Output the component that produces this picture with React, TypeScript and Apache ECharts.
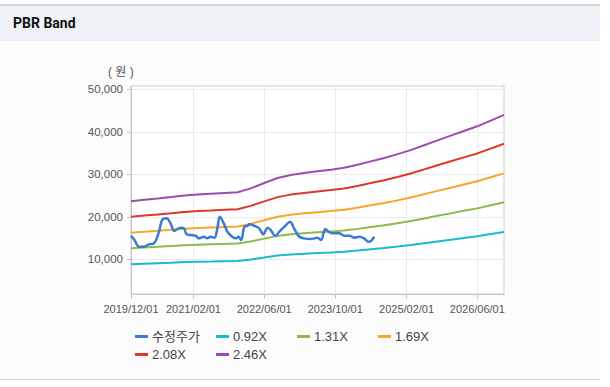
import React, { useEffect, useRef } from 'react';
import * as echarts from 'echarts';

const priceDates = [
  '2019-12-01', '2019-12-25', '2020-01-25', '2020-02-28', '2020-04-01', '2020-05-07', '2020-06-10',
  '2020-07-01', '2020-08-01', '2020-08-28', '2020-09-22', '2020-10-13', '2020-11-07', '2020-11-28',
  '2020-12-16', '2021-01-13', '2021-02-16', '2021-03-10', '2021-04-13', '2021-05-07', '2021-05-28',
  '2021-06-25', '2021-07-13', '2021-08-01', '2021-08-28', '2021-09-22', '2021-10-25', '2021-11-19',
  '2021-12-07', '2021-12-25', '2022-01-16', '2022-02-07', '2022-02-19', '2022-03-25', '2022-04-28',
  '2022-05-25', '2022-06-25', '2022-07-16', '2022-08-16', '2022-09-13', '2022-10-28', '2022-11-25',
  '2022-12-25', '2023-01-28', '2023-03-01', '2023-04-16', '2023-06-01', '2023-06-25', '2023-07-25',
  '2023-08-16', '2023-09-13', '2023-10-28', '2023-12-01', '2024-01-07', '2024-02-10', '2024-03-13',
  '2024-04-16', '2024-05-16', '2024-06-01', '2024-06-25',
];
const priceValues = [
  15550, 14540, 12970, 12970, 13530, 13770, 16500,
  19250, 19650, 18470, 16660, 17130, 17440, 17300,
  15880, 15720, 15550, 14940, 15320, 14940, 15320,
  15080, 16890, 20020, 18470, 16500, 15320, 14940,
  15320, 14540, 17670, 17900, 18230, 17900, 17300,
  15880, 17440, 16890, 15550, 16500, 18070, 18850,
  17130, 15320, 14940, 14780, 15080, 14540, 17130,
  16500, 16120, 16120, 15550, 15550, 15080, 15320,
  14940, 14140, 14300, 15320,
];

const bandDates = [
  '2019-12-01', '2020-03-01', '2020-06-01', '2020-09-01', '2020-12-01', '2021-03-01', '2021-06-01',
  '2021-09-01', '2021-12-01', '2022-03-01', '2022-06-01', '2022-09-01', '2022-12-01', '2023-03-01',
  '2023-06-01', '2023-09-01', '2023-12-01', '2024-03-01', '2024-06-01', '2024-09-01', '2024-12-01',
  '2025-03-01', '2025-06-01', '2025-09-01', '2025-12-01', '2026-03-01', '2026-06-01', '2026-09-01',
  '2026-12-01',
];
const band092 = [8850, 8980, 9100, 9220, 9350, 9450, 9510, 9580, 9640, 9990, 10450, 10900, 11160, 11330, 11480, 11630, 11800, 12060, 12360, 12660, 13000, 13350, 13780, 14210, 14620, 15030, 15450, 15950, 16460];
const band131 = [12590, 12780, 12950, 13130, 13310, 13460, 13550, 13640, 13730, 14220, 14880, 15520, 15890, 16140, 16350, 16560, 16800, 17170, 17600, 18030, 18510, 19010, 19620, 20240, 20820, 21410, 21990, 22710, 23430];
const band169 = [16250, 16490, 16710, 16940, 17180, 17360, 17480, 17600, 17710, 18340, 19200, 20020, 20500, 20820, 21090, 21370, 21670, 22160, 22710, 23250, 23870, 24530, 25320, 26110, 26860, 27620, 28370, 29300, 30230];
const band208 = [20000, 20290, 20560, 20850, 21140, 21370, 21510, 21660, 21800, 22580, 23630, 24640, 25230, 25620, 25960, 26300, 26680, 27270, 27950, 28620, 29380, 30190, 31160, 32130, 33060, 33990, 34920, 36060, 37200];
const band246 = [23650, 24000, 24320, 24660, 25000, 25270, 25440, 25610, 25780, 26700, 27950, 29140, 29840, 30300, 30700, 31100, 31550, 32250, 33050, 33850, 34750, 35700, 36850, 38000, 39100, 40200, 41300, 42650, 44000];

const seriesNames = ['수정주가', '0.92X', '1.31X', '1.69X', '2.08X', '2.46X'];
const seriesColors = ['#3a7bd5', '#1cb9d2', '#8cbb4c', '#f7a62b', '#e0352b', '#9c4dab'];
const xTickDates = ['2019-12-01', '2021-02-01', '2022-06-01', '2023-10-01', '2025-02-01', '2026-06-01'];
const yTickValues = [10000, 20000, 30000, 40000, 50000];
const xMin = '2019-12-01';
const xMax = '2026-12-01';
const yMin = 1850;
const yMax = 50780;
const unitLabel = '( 원 )';
const titleText = 'PBR Band';

const FONT = '"Liberation Sans", Arial, "Noto Sans CJK KR", sans-serif';

const ts = (s: string) => {
  const [y, m, d] = s.split('-').map(Number);
  return Date.UTC(y, m - 1, d);
};

export default function App() {
  const ref = useRef<HTMLDivElement>(null);

  useEffect(() => {
    document.body.style.margin = '0';
    const chart = echarts.init(ref.current as HTMLDivElement, null, { renderer: 'svg' });
    const pair = (dates: string[], vals: number[]) => dates.map((d, i) => [ts(d), vals[i]]);
    const bandValues = [band092, band131, band169, band208, band246];

    const series: any[] = [
      {
        name: seriesNames[0],
        type: 'line',
        data: pair(priceDates, priceValues),
        showSymbol: false,
        smooth: 0.35,
        z: 5,
        lineStyle: { width: 2.5, color: seriesColors[0] },
        itemStyle: { color: seriesColors[0] },
      },
      ...bandValues.map((vals, i) => ({
        name: seriesNames[i + 1],
        type: 'line',
        data: pair(bandDates, vals),
        showSymbol: false,
        z: 3,
        lineStyle: { width: 2, color: seriesColors[i + 1] },
        itemStyle: { color: seriesColors[i + 1] },
      })),
    ];

    // fixed-column legend: 4 columns, 2 rows
    const colLeft = [135, 216, 297, 378];
    const rowTop = [289, 307];
    const legends = seriesNames.map((name, i) => ({
      orient: 'horizontal',
      left: colLeft[i % 4],
      top: rowTop[Math.floor(i / 4)],
      icon: 'rect',
      itemWidth: 13,
      itemHeight: 3,
      itemGap: 0,
      padding: 0,
      data: [name],
      textStyle: { fontSize: 13, color: '#444', fontFamily: FONT, padding: [0, 0, 0, -1] },
    }));

    const xTicks = xTickDates.map(ts);

    chart.setOption({
      animation: false,
      backgroundColor: 'transparent',
      grid: {
        left: 131,
        top: 45,
        width: 373,
        height: 208,
        show: true,
        borderColor: '#cdcdcd',
        borderWidth: 1,
        backgroundColor: '#ffffff',
      },
      xAxis: {
        type: 'value',
        min: ts(xMin),
        max: ts(xMax),
        axisLine: { show: true, lineStyle: { color: '#c4c4c4' } },
        axisTick: { show: true, length: 5, customValues: xTicks, lineStyle: { color: '#c4c4c4' } },
        axisLabel: {
          customValues: xTicks,
          fontSize: 11,
          color: '#555',
          fontFamily: FONT,
          margin: 9,
          hideOverlap: false,
          showMinLabel: true,
          showMaxLabel: true,
          formatter: (v: number) => echarts.time.format(v, '{yyyy}/{MM}/{dd}', true),
        },
        splitLine: { show: true, lineStyle: { color: '#ebebeb', width: 1 } },
      },
      yAxis: {
        type: 'value',
        min: yMin,
        max: yMax,
        axisLine: { show: true, lineStyle: { color: '#c4c4c4' } },
        axisTick: { show: true, length: 4, customValues: yTickValues, lineStyle: { color: '#c4c4c4' } },
        axisLabel: {
          customValues: yTickValues,
          fontSize: 11.5,
          color: '#555',
          fontFamily: FONT,
          margin: 8,
          formatter: (v: number) => v.toLocaleString('en-US'),
        },
        splitLine: { show: true, lineStyle: { color: '#ebebeb', width: 1 } },
      },
      legend: legends,
      graphic: [
        {
          type: 'text',
          left: 108,
          top: 25,
          style: { text: unitLabel, font: `12px ${FONT}`, fill: '#555' },
        },
      ],
      series,
    });
    return () => chart.dispose();
  }, []);

  return (
    <div style={{ position: 'relative', width: 610, height: 387, background: '#ffffff', overflow: 'hidden' }}>
      <div style={{ position: 'absolute', left: 0, top: 4, width: 600, height: 2, background: '#d3d6db' }} />
      <div
        style={{
          position: 'absolute',
          left: 0,
          top: 6,
          width: 600,
          height: 35,
          background: '#eef2f7',
          boxSizing: 'border-box',
          paddingLeft: 13,
          lineHeight: '35px',
          fontFamily: 'Roboto, "Liberation Sans", Arial, sans-serif',
          fontWeight: 'bold',
          fontSize: 14,
          color: '#111',
        }}
      >
        {titleText}
      </div>
      <div style={{ position: 'absolute', left: 0, top: 41, width: 600, height: 338, background: '#fcfcfc' }} />
      <div style={{ position: 'absolute', left: 0, top: 379, width: 600, height: 1, background: '#cfcfcf' }} />
      <div ref={ref} style={{ position: 'absolute', left: 0, top: 41, width: 600, height: 338 }} />
    </div>
  );
}
